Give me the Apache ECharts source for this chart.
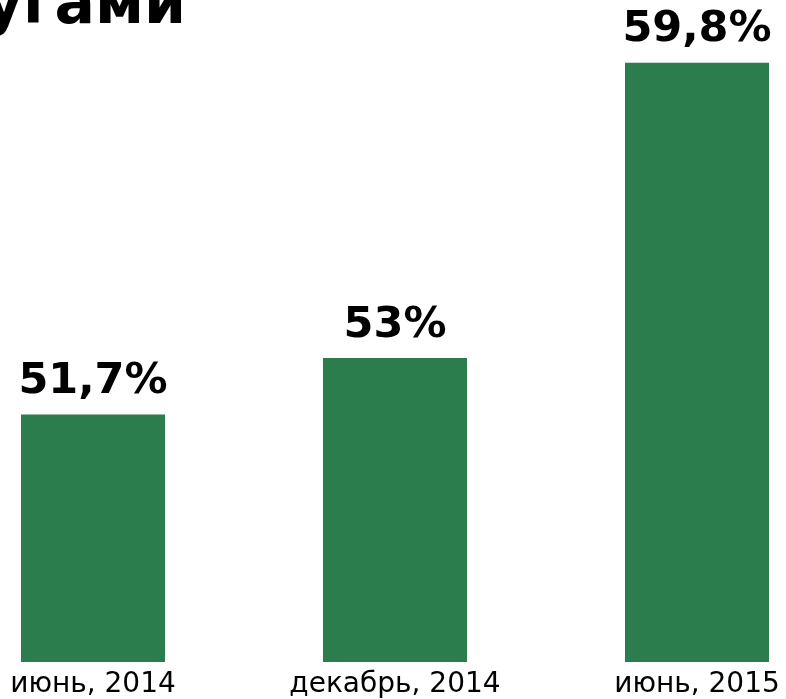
<!DOCTYPE html>
<html>
<head>
<meta charset="utf-8">
<script src="https://cdn.jsdelivr.net/npm/echarts@6/dist/echarts.min.js"></script>
<style>
html,body{margin:0;padding:0;background:#fff;}
#chart{width:786px;height:699px;}
</style>
</head>
<body>
<div id="chart"></div>
<script>
const categories = ['июнь, 2014', 'декабрь, 2014', 'июнь, 2015'];
const values = [51.7, 53, 59.8];
const valueLabels = ['51,7%', '53%', '59,8%'];
const titleText = 'услугами';

const chart = echarts.init(document.getElementById('chart'), null, {renderer: 'canvas'});
chart.setOption({
  animation: false,
  backgroundColor: '#ffffff',
  graphic: [{
    type: 'text',
    right: 600,
    top: -23,
    style: {
      text: titleText,
      font: 'bold 60px "DejaVu Sans"',
      fill: '#000000',
      textAlign: 'right'
    }
  }],
  grid: {left: -58, right: -62, top: 54, bottom: 37, containLabel: false, outerBoundsMode: 'none'},
  xAxis: {
    type: 'category',
    data: categories,
    axisLine: {show: false},
    axisTick: {show: false},
    axisLabel: {
      color: '#000000',
      fontFamily: 'DejaVu Sans',
      fontSize: 28,
      margin: 9,
      interval: 0
    }
  },
  yAxis: {
    type: 'value',
    min: 46,
    max: 60,
    show: false,
    splitLine: {show: false}
  },
  series: [{
    type: 'bar',
    data: values,
    barWidth: 144,
    itemStyle: {color: '#2B7D4D'},
    label: {
      show: true,
      position: 'top',
      distance: 11,
      color: '#000000',
      fontFamily: 'DejaVu Sans',
      fontWeight: 'bold',
      fontSize: 43,
      formatter: function (p) { return valueLabels[p.dataIndex]; }
    }
  }]
});
</script>
</body>
</html>
